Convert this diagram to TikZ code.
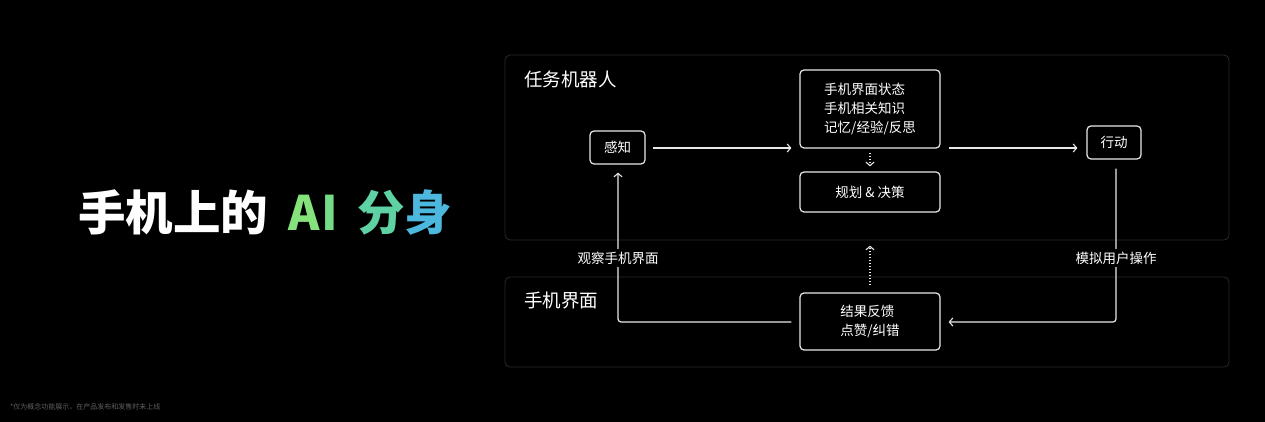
\documentclass[tikz,border=0pt]{standalone}
\usepackage{fontspec}
\setmainfont{Noto Sans CJK SC}
\newfontfamily\cjk{Noto Sans CJK SC}
\usetikzlibrary{arrows.meta}
\definecolor{lineC}{HTML}{E8E8E8}
\definecolor{panelC}{HTML}{2A2A2A}
\definecolor{gA}{HTML}{86E27A}
\definecolor{gI}{HTML}{74DC88}
\definecolor{gF}{HTML}{5ED2A2}
\definecolor{gS}{HTML}{4CB8DE}
\definecolor{noteC}{HTML}{606060}
\begin{document}
\begin{tikzpicture}[x=1pt,y=1pt,
  panel/.style={draw=panelC, line width=0.8pt, rounded corners=5pt},
  box/.style={draw=lineC, line width=1.2pt, rounded corners=4pt, text=white, inner sep=0pt, font=\cjk\fontsize{13.5}{19}\selectfont},
  conn/.style={draw=lineC, line width=1.2pt, rounded corners=3pt},
  tip/.style={-{Straight Barb[length=3.5pt,width=8pt,line width=1.1pt]}},
  dotconn/.style={draw=lineC, line width=1.1pt, dash pattern=on 1.5pt off 1.5pt},
  plabel/.style={text=white, anchor=west, inner sep=0pt, font=\cjk\fontsize{18.5}{20}\selectfont},
  elabel/.style={fill=black, text=white, inner sep=3pt, font=\cjk\fontsize{13.5}{15}\selectfont}]
\useasboundingbox[fill=black] (0,0) rectangle (1265,422);
% title
\node[anchor=west, inner sep=0pt, font=\cjk\bfseries\fontsize{47.5}{50}\selectfont] (title) at (78,209)
  {\textcolor{white}{手机上的}\hspace{20pt}\textcolor{gA}{A}\hspace{2pt}\textcolor{gI}{I}\hspace{19pt}\textcolor{gF}{分}\textcolor{gS}{身}};
% panels
\draw[panel] (505,367) rectangle (1229,182);
\draw[panel] (505,145) rectangle (1229,55);
\node[plabel] (robot) at (524,343) {任务机器人};
\node[plabel] (screen) at (524,121) {手机界面};
% boxes
\node[box, align=center, minimum width=55pt, minimum height=33pt] (perceive) at (617.5,274.5) {感知};
\node[box, align=left, minimum width=140pt, minimum height=78pt] (info) at (870,313) {手机界面状态\\手机相关知识\\记忆/经验/反思};
\node[box, align=center, minimum width=140pt, minimum height=40pt] (plan) at (870,230) {规划 \& 决策};
\node[box, align=center, minimum width=54pt, minimum height=33pt] (act) at (1114,279.5) {行动};
\node[box, align=left, minimum width=140pt, minimum height=57pt] (result) at (870,100.5) {结果反馈\\点赞/纠错};
% connectors
\coordinate (c1) at (1116,100);
\coordinate (c2) at (618,100);
\draw[conn, tip] ([xshift=7pt]perceive.east |- 0,274) -- ([xshift=-8pt]info.west |- 0,274);
\draw[conn, tip] ([xshift=8pt]info.east |- 0,274) -- ([xshift=-9pt]act.west |- 0,274);
\draw[conn, tip] ([yshift=-9pt]act.south -| c1) -- (c1) -- ([xshift=8pt]result.east |- c1);
\draw[conn, tip] ([xshift=-8pt]result.west |- c2) -- (c2) -- ([yshift=-8pt]perceive.south -| c2);
\draw[dotconn, tip] ([yshift=-4pt]info.south) -- ([yshift=5pt]plan.north);
\draw[dotconn, tip] ([yshift=7pt]result.north) -- ([yshift=-33pt]plan.south);
% edge labels
\node[elabel] (obs) at (618,164) {观察手机界面};
\node[elabel] (sim) at (1116,164) {模拟用户操作};
% footnote
\node[anchor=west, inner sep=0pt, text=noteC, font=\cjk\fontsize{7}{8}\selectfont] (note) at (10,15) {*仅为概念功能展示，在产品发布和发售时未上线};
\end{tikzpicture}
\end{document}
